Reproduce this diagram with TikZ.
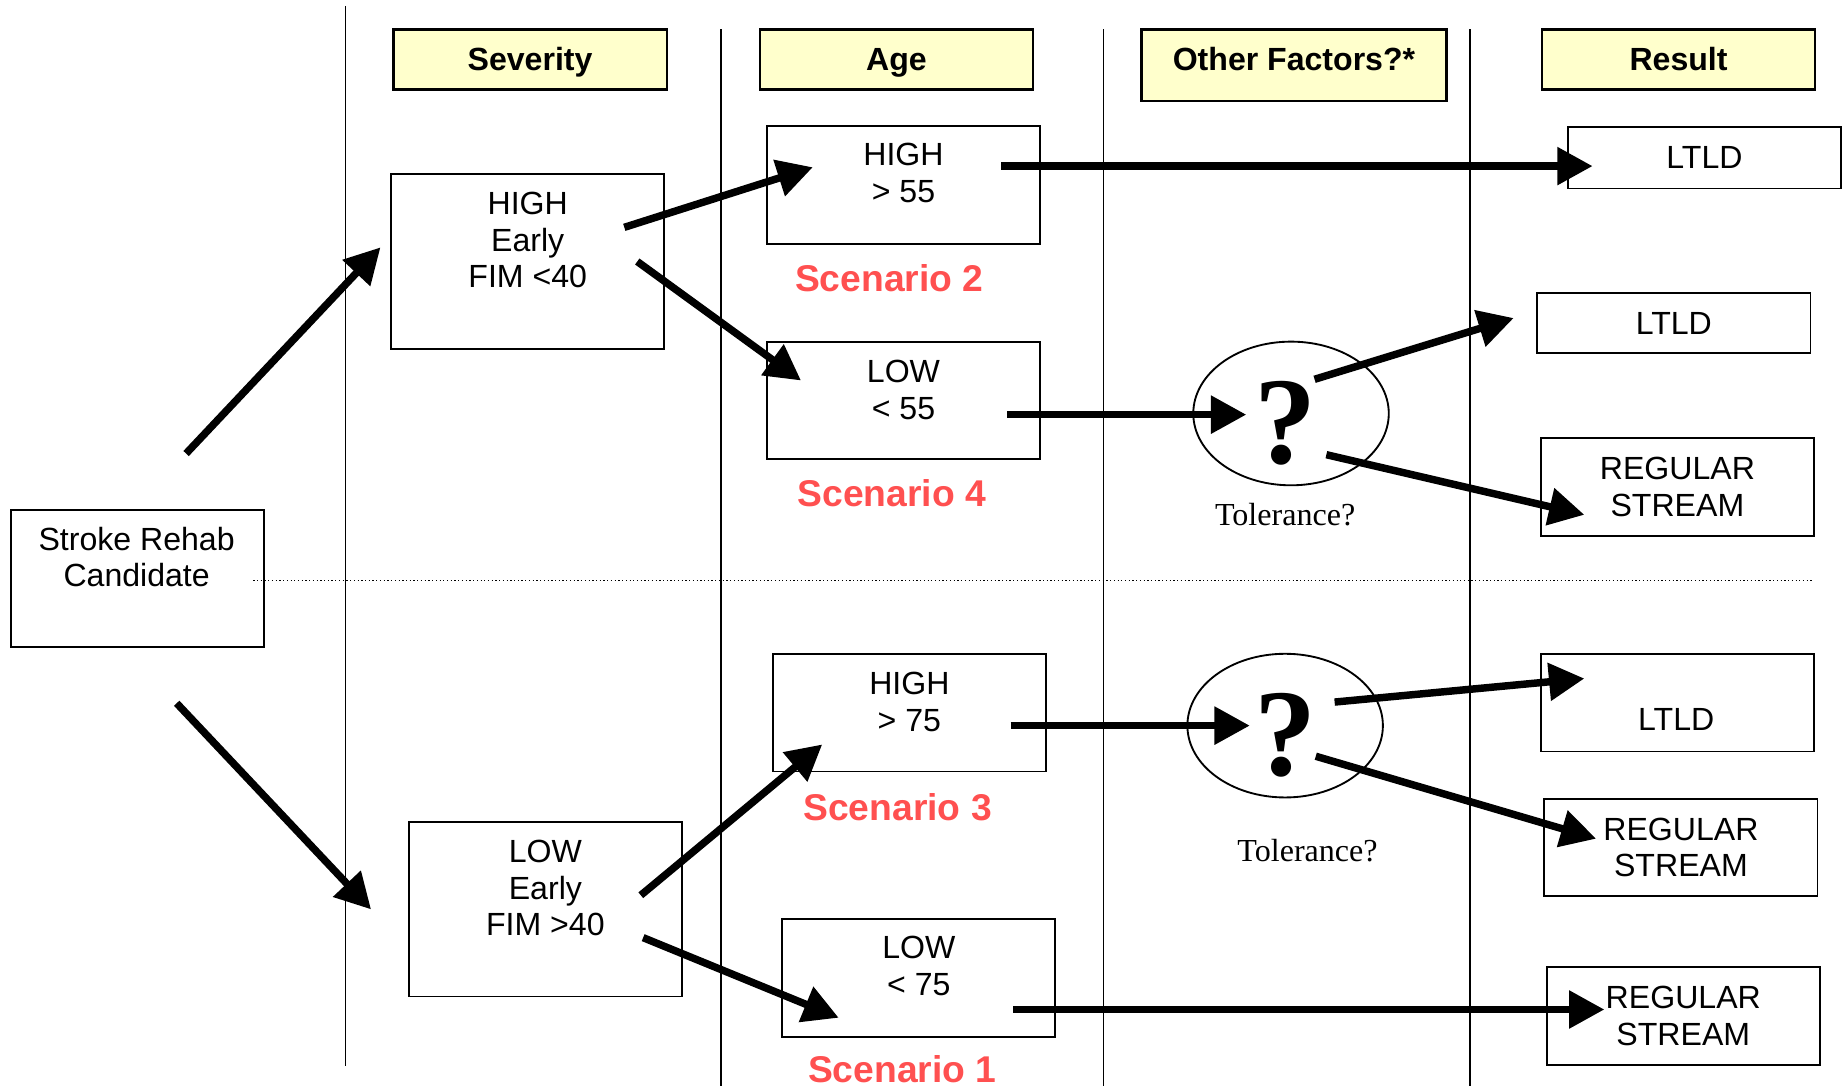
\documentclass[tikz,border=0pt]{standalone}
\usepackage{fontspec}
\setmainfont{Liberation Sans}
\newfontfamily\tolfont{Liberation Serif}
\usetikzlibrary{arrows.meta,shapes.geometric,positioning}
\definecolor{hdryellow}{RGB}{255,255,204}
\definecolor{scenred}{RGB}{255,80,80}

\begin{document}
\begin{tikzpicture}[x=0.02cm, y=-0.02cm,
  hdr/.style={draw, fill=hdryellow, line width=1.1pt, minimum width=4.64cm, minimum height=1.02cm, inner sep=0pt, text height=0.45cm, text depth=0.06cm, font=\fontsize{15.5}{17.6}\selectfont\bfseries},
  box/.style={draw, line width=0.9pt, minimum width=4.64cm, inner sep=0pt, align=center, font=\fontsize{15.5}{17.6}\selectfont},
  txt/.style={align=center, inner sep=0pt, font=\fontsize{15.5}{17.6}\selectfont},
  scen/.style={text=scenred, inner sep=0pt, font=\fontsize{18}{20}\selectfont\bfseries},
  qbubble/.style={draw, ellipse, line width=0.9pt, minimum width=3.32cm, minimum height=2.44cm},
  qmark/.style={inner sep=0pt, font=\tolfont\bfseries\fontsize{60}{62}\selectfont},
  tol/.style={inner sep=0pt, font=\tolfont\fontsize{15.5}{18}\selectfont},
  divider/.style={line width=0.6pt},
  flow/.style={line width=3.6pt, -{Triangle[length=0.6cm, width=0.62cm]}}]
\useasboundingbox (0,0) rectangle (1568,924);

% column dividers and the split
\draw[divider] (293,5) -- (293,905);
\foreach \x in {612,937,1248}
  \draw[divider] (\x,25) -- (\x,922);
\draw[line width=0.5pt, dash pattern=on 0.6pt off 1.2pt] (215,493) -- (1540,493);

% headers
\node[hdr] (hsev) at (450,50.5) {Severity};
\node[hdr] (hage) at (761,50.5) {Age};
\node[hdr, minimum width=5.18cm, minimum height=1.22cm, text depth=0.28cm] (hoth) at (1098.5,55.5) {Other Factors?*};
\node[hdr] (hres) at (1425,50.5) {Result};

% start
\node[box, minimum width=4.3cm, minimum height=2.32cm] (cand) at (116.5,491) {};
\node[txt] (candtxt) at (116,473) {Stroke Rehab\\Candidate};

% severity
\node[box, minimum height=2.96cm] (sevhi) at (448,222) {};
\node[txt] (sevhitxt) at (448,204) {HIGH\\Early\\FIM <40};
\node[box, minimum height=2.96cm] (sevlo) at (463,772) {};
\node[txt] (sevlotxt) at (463,754) {LOW\\Early\\FIM >40};

% age
\node[box, minimum height=2cm] (agehi) at (767,157) {};
\node[txt] (agehitxt) at (767,147) {HIGH\\> 55};
\node[box, minimum height=2cm] (agelo) at (767,340) {};
\node[txt] (agelotxt) at (767,331) {LOW\\< 55};
\node[box, minimum height=2cm] (ageold) at (772,605) {};
\node[txt] (ageoldtxt) at (772,596) {HIGH\\> 75};
\node[box, minimum height=2cm] (ageyng) at (780,830) {};
\node[txt] (ageyngtxt) at (780,820) {LOW\\< 75};

\node[scen] (scen2) at (755,236) {Scenario 2};
\node[scen] (scen4) at (757,419) {Scenario 4};
\node[scen] (scen3) at (762,685) {Scenario 3};
\node[scen] (scen1) at (766,908) {Scenario 1};

% other factors
\node[qbubble] (qa) at (1096,351) {};
\node[qmark] (qamark) at (1091,359) {?};
\node[tol] (tola) at (1091,437) {Tolerance?};
\node[qbubble] (qb) at (1091,616) {};
\node[qmark] (qbmark) at (1091,624) {?};
\node[tol] (tolb) at (1110,722) {Tolerance?};

% results
\node[box, minimum height=1.04cm] (res1) at (1447,134) {LTLD};
\node[box, minimum height=1.02cm] (res2) at (1421,274.5) {LTLD};
\node[box, minimum height=1.66cm] (res3) at (1424,413.5) {REGULAR\\STREAM};
\node[box, minimum height=1.66cm] (res4) at (1424,596.5) {};
\node[txt] (res4txt) at (1423,611) {LTLD};
\node[box, minimum height=1.66cm] (res5) at (1427,719.5) {REGULAR\\STREAM};
\node[box, minimum height=1.66cm] (res6) at (1429,862.5) {REGULAR\\STREAM};

% arrow ends
\coordinate (candup) at (158,385);
\coordinate (canddn) at (150,597);
\coordinate (sevhiin) at (323,210);
\coordinate (sevloin) at (315,772);
\coordinate (sevhiup) at (530,193);
\coordinate (sevhidn) at (541,222);
\coordinate (agehiin) at (690,142);
\coordinate (ageloin) at (680,323);
\coordinate (sevloup) at (544,760);
\coordinate (sevlodn) at (546,796);
\coordinate (ageoldin) at (698,632);
\coordinate (ageyngin) at (712,864);
\coordinate (agehiout) at (850,141);
\coordinate (res1in) at (1352,141);
\coordinate (ageloout) at (855,352);
\coordinate (qain) at (1058,352);
\coordinate (qaup) at (1116,322);
\coordinate (qadn) at (1126,386);
\coordinate (res2in) at (1285,270);
\coordinate (res3in) at (1345,437);
\coordinate (ageoldout) at (858,616);
\coordinate (qbin) at (1061,616);
\coordinate (qbup) at (1133,596);
\coordinate (qbdn) at (1117,642);
\coordinate (res4in) at (1345,576);
\coordinate (res5in) at (1355,712);
\coordinate (ageyngout) at (860,857);
\coordinate (res6in) at (1362,857);

% flows
\draw[flow] (candup) -- (sevhiin);
\draw[flow] (canddn) -- (sevloin);
\draw[flow] (sevhiup) -- (agehiin);
\draw[flow] (sevhidn) -- (ageloin);
\draw[flow] (sevloup) -- (ageoldin);
\draw[flow] (sevlodn) -- (ageyngin);
\draw[flow] (agehiout) -- (res1in);
\draw[flow] (ageloout) -- (qain);
\draw[flow] (qaup) -- (res2in);
\draw[flow] (qadn) -- (res3in);
\draw[flow] (ageoldout) -- (qbin);
\draw[flow] (qbup) -- (res4in);
\draw[flow] (qbdn) -- (res5in);
\draw[flow] (ageyngout) -- (res6in);
\end{tikzpicture}
\end{document}
